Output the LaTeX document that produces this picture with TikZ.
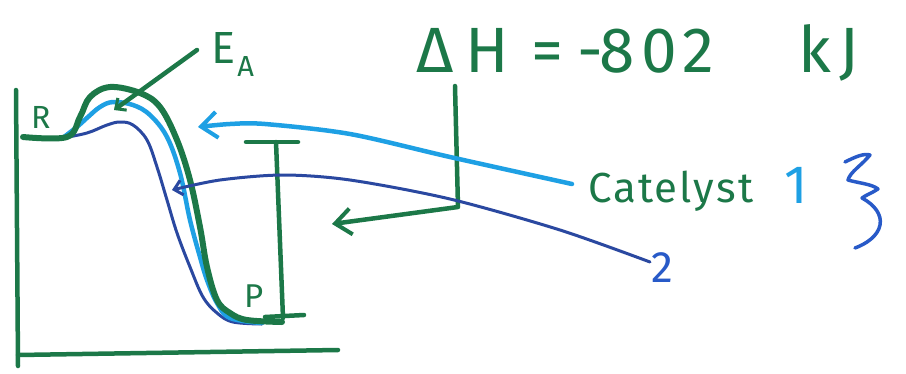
\documentclass[tikz,border=0pt]{standalone}
\usepackage{fontspec}
\setmainfont{Fira Sans}
\usetikzlibrary{arrows.meta}
\definecolor{pgreen}{RGB}{28,120,72}
\definecolor{lblue}{RGB}{30,160,228}
\definecolor{dblue}{RGB}{42,72,160}
\definecolor{mblue}{RGB}{40,90,200}
\tikzset{
  greenline/.style={draw=pgreen, line width=6pt, line cap=round, line join=round},
  gthin/.style={draw=pgreen, line width=4.5pt, line cap=round, line join=round},
  lbline/.style={draw=lblue, line width=4.5pt, line cap=round, line join=round},
  dbline/.style={draw=dblue, line width=3pt, line cap=round, line join=round},
  barb/.style={-{Straight Barb[length=16pt, width=26pt, line width=4pt]}},
  smallbarb/.style={-{Straight Barb[length=8pt, width=15pt, line width=3pt]}},
  lbl/.style={inner sep=0pt, anchor=base west},
}
\begin{document}
\begin{tikzpicture}[x=1pt, y=-1pt]
\fill[white] (0,0) rectangle (906,373);
\useasboundingbox (0,0) rectangle (906,373);
% axes
\coordinate (axtop) at (16,90);
\coordinate (axorig) at (18,355);
\coordinate (axbot) at (18,366);
\coordinate (axright) at (338,350);
\draw[gthin] (axtop) -- (axbot);
\draw[gthin] (axorig) -- (axright);
% labels
\node[lbl, text=pgreen, font=\fontsize{32}{32}\selectfont] (R) at (31,128) {R};
\node[lbl, text=pgreen, font=\fontsize{33}{33}\selectfont] (P) at (244,307) {P};
\node[lbl, text=pgreen, font=\fontsize{45}{45}\selectfont] (EA) at (211,63) {E\hspace{2pt}\raisebox{-13pt}{\fontsize{29}{29}\selectfont A}};
% curves
\draw[dbline] plot[smooth, tension=0.6] coordinates {(62,138) (87,133) (107,125) (120,122) (133,125) (147,140) (157,167) (167,200) (177,233) (190,267) (203,297) (217,313) (233,322) (262,324)};
\draw[lbline] plot[smooth, tension=0.6] coordinates {(64,137) (78,126) (88,117) (100,107) (113,102) (133,105) (150,115) (167,137) (180,173) (190,220) (200,257) (207,280) (217,303) (230,318) (262,323)};
\draw[greenline] plot[smooth, tension=0.6] coordinates {(23,137) (67,137) (80,117) (90,97) (110,87) (140,93) (160,107) (177,140) (190,180) (200,227) (207,267) (217,300) (230,313) (247,320) (282,322)};
% E_A pointer
\coordinate (eatip) at (114,110);
\draw[gthin, smallbarb] (197,50) -- (eatip);
% Delta H bar
\coordinate (bartl) at (246,142);
\coordinate (bartr) at (298,142);
\coordinate (bartm) at (276,142);
\coordinate (barbm) at (283,318);
\coordinate (barbl) at (265,317);
\coordinate (barbr) at (304,315);
\draw[gthin] (bartl) -- (bartr);
\draw[gthin] (bartm) -- (barbm);
\draw[gthin] (barbl) -- (barbr);
% Delta H label
\node[lbl, text=pgreen, font=\fontsize{64}{64}\selectfont] (dH) at (416,72) {Δ\hspace{12pt}H\hspace{22pt}=\hspace{14pt}-\hspace{-3pt}8\hspace{6pt}0\hspace{6pt}2\hspace{84pt}k\hspace{8pt}J};
\coordinate (dHfoot) at (455,86);
\coordinate (dHcorner) at (458,207);
\coordinate (dHtip) at (332,224);
\draw[gthin, barb] (dHfoot) -- (dHcorner) -- (dHtip);
% Catalyst labels
\node[lbl, text=pgreen, font=\fontsize{42}{42}\selectfont\addfontfeature{LetterSpace=5}] (cat) at (588,202) {Catelyst};
\node[lbl, text=lblue, font=\fontsize{54}{54}\selectfont] (one) at (784,203) {1};
\node[lbl, text=mblue, font=\fontsize{44}{44}\selectfont] (two) at (651,282) {2};
% arrows
\coordinate (lbtip) at (198,127);
\draw[lbline, barb] plot[smooth, tension=0.5] coordinates {(572,184) (450,157) (350,134) (265,124) (230,124) (198,127)};
\coordinate (dbtip) at (172,190);
\draw[dbline, smallbarb] plot[smooth, tension=0.5] coordinates {(650,262) (560,230) (450,199) (350,180) (283,175) (220,180) (172,190)};
% squiggle
\draw[draw=mblue, line width=3.5pt, line cap=round, line join=round]
  (845,162) .. controls (855,157) and (864,153) .. (870,155)
  .. controls (862,165) and (850,172) .. (848,180)
  .. controls (858,183) and (872,184) .. (878,189)
  .. controls (872,193) and (866,195) .. (862,198)
  .. controls (875,205) and (882,215) .. (880,225)
  .. controls (878,236) and (866,244) .. (855,248);
\end{tikzpicture}
\end{document}
